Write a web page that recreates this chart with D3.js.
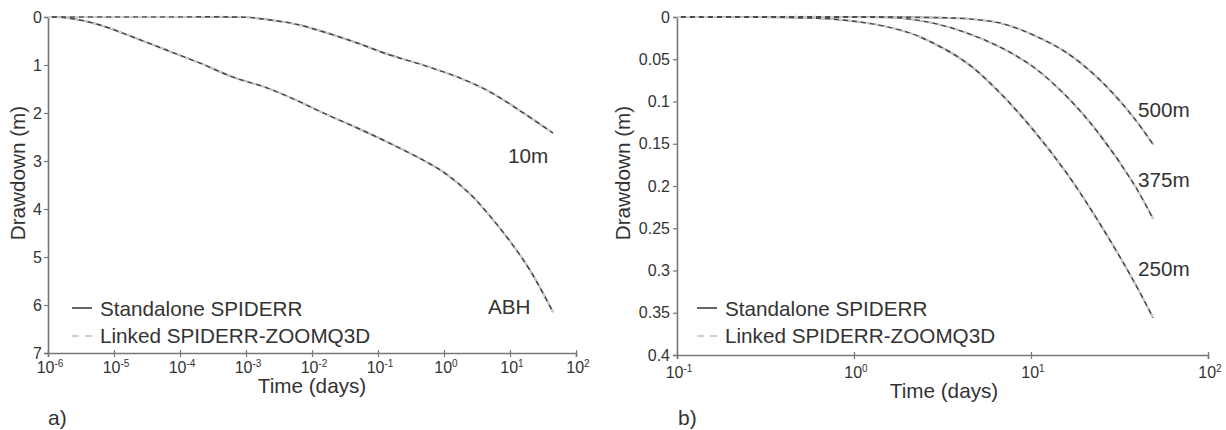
<!DOCTYPE html>
<html><head><meta charset="utf-8">
<script src="https://cdn.jsdelivr.net/npm/d3@7"></script>
<style>
body{margin:0;background:#fff}
svg{display:block}
text{font-family:"Liberation Sans",Arial,Helvetica,sans-serif;fill:#333}
</style>
</head><body>
<svg id="chart" width="1226" height="430"></svg>
<script>
// ---------- Data: panel a) ----------
const timeA_10m = [1e-6, 1e-5, 1e-4, 1e-3, 0.002, 0.0047, 0.0066, 0.015, 0.048, 0.15, 0.48, 1.6, 5, 16, 45];
const drawA_10m = [0, 0, 0, 0.005, 0.05, 0.125, 0.17, 0.31, 0.54, 0.79, 1.0, 1.25, 1.56, 2.0, 2.42];
const timeA_ABH = [1e-6, 1.95e-6, 6.2e-6, 1.95e-5, 6.3e-5, 2e-4, 6.3e-4, 2.1e-3, 6.6e-3, 0.0148, 0.048, 0.151, 0.48, 1.03, 2.5, 5, 10, 20, 45];
const drawA_ABH = [0, 0.02, 0.17, 0.42, 0.69, 0.96, 1.25, 1.48, 1.77, 2.0, 2.31, 2.63, 2.98, 3.25, 3.69, 4.15, 4.67, 5.27, 6.15];
const xExpA = [-6, -5, -4, -3, -2, -1, 0, 1, 2];
const yTicksA = [0, 1, 2, 3, 4, 5, 6, 7];

// ---------- Data: panel b) ----------
const timeB_250 = [0.1, 0.3, 0.5, 0.76, 1.18, 1.82, 2.36, 4.35, 6.68, 10.3, 16, 24.5, 37.7, 49];
const drawB_250 = [0, 0.0003, 0.001, 0.0025, 0.0071, 0.0154, 0.0235, 0.0544, 0.0898, 0.1336, 0.1856, 0.2447, 0.311, 0.356];
const timeB_375 = [0.1, 1.0, 1.82, 2.79, 4.35, 6.68, 10.3, 16, 24.5, 37.7, 49];
const drawB_375 = [0, 0.0002, 0.0012, 0.0071, 0.0189, 0.0355, 0.059, 0.0946, 0.1395, 0.196, 0.239];
const timeB_500 = [0.1, 2.0, 4.35, 6.68, 10.3, 16, 24.5, 37.7, 49];
const drawB_500 = [0, 0.0002, 0.002, 0.0071, 0.0213, 0.0426, 0.0745, 0.118, 0.151];
const xExpB = [-1, 0, 1, 2];
const yTicksB = [0, 0.05, 0.1, 0.15, 0.2, 0.25, 0.3, 0.35, 0.4];
const yTickLabelsB = ["0", "0.05", "0.1", "0.15", "0.2", "0.25", "0.3", "0.35", "0.4"];

// ---------- Text ----------
const legendNames = ["Standalone SPIDERR", "Linked SPIDERR-ZOOMQ3D"];
const yTitle = "Drawdown (m)";
const xTitle = "Time (days)";

const svg = d3.select("#chart");
const axisColor = "#777";
const solidColor = "#4a4a4a";
const dashColor = "#cfcfcf";
const FS = 20.7;

function zip(t, s) { return t.map((v, i) => [v, s[i]]); }

function drawPanel(cfg) {
  const x = d3.scaleLog().domain(cfg.xDomain).range(cfg.xRange);
  const y = d3.scaleLinear().domain(cfg.yDomain).range(cfg.yRange);
  const g = svg.append("g");

  // y axis
  const ya = g.append("g").attr("transform", `translate(${cfg.xRange[0]},0)`)
    .call(d3.axisLeft(y).tickValues(cfg.yTicks).tickSizeOuter(0).tickSize(4)
      .tickPadding(cfg.yPad).tickFormat((d, i) => cfg.yLabels[i]));
  ya.select(".domain").attr("stroke", axisColor).attr("stroke-width", 1.6);
  ya.selectAll(".tick line").attr("stroke", axisColor).attr("stroke-width", 1.2);
  ya.selectAll(".tick text").attr("font-size", 16).attr("fill", "#3a3a3a")
    .attr("font-family", "Liberation Sans, Arial, sans-serif");

  // x axis
  const tickVals = cfg.xExp.map(e => Math.pow(10, e));
  const xa = g.append("g").attr("transform", `translate(0,${cfg.yRange[1]})`)
    .call(d3.axisBottom(x).tickValues(tickVals).tickFormat("").tickSizeOuter(0).tickSize(4));
  xa.select(".domain").attr("stroke", axisColor).attr("stroke-width", 1.6);
  xa.selectAll(".tick line").attr("stroke", axisColor).attr("stroke-width", 1.2).attr("y1", -3);

  cfg.xExp.forEach(e => {
    const t = g.append("text")
      .attr("x", x(Math.pow(10, e)) + 2)
      .attr("y", cfg.yRange[1] + cfg.xLabOff)
      .attr("text-anchor", "middle")
      .attr("font-size", 16).attr("fill", "#3a3a3a");
    t.append("tspan").text("10");
    t.append("tspan").attr("font-size", 10).attr("dy", -6).text(String(e));
  });

  // titles
  g.append("text").attr("transform", `translate(${cfg.yTitleX},173) rotate(-90)`)
    .attr("text-anchor", "middle").attr("font-size", FS).text(yTitle);
  g.append("text").attr("x", cfg.xTitleX).attr("y", cfg.xTitleY)
    .attr("text-anchor", "middle").attr("font-size", FS).text(xTitle);
  g.append("text").attr("x", cfg.panelX).attr("y", 425)
    .attr("font-size", 21).text(cfg.panelLabel);

  // curves
  const line = d3.line().x(d => x(d[0])).y(d => y(d[1])).curve(d3.curveCatmullRom.alpha(0.5));
  cfg.series.forEach(s => {
    const pts = zip(s.t, s.s);
    g.append("path").datum(pts).attr("d", line).attr("fill", "none")
      .attr("stroke", solidColor).attr("stroke-width", 1.7);
    g.append("path").datum(pts).attr("d", line).attr("fill", "none")
      .attr("stroke", dashColor).attr("stroke-width", 1.9).attr("stroke-dasharray", "4,5");
    g.append("text").attr("x", s.lx).attr("y", s.ly).attr("font-size", FS).text(s.name);
  });

  // legend
  const lg = g.append("g");
  lg.append("line").attr("x1", cfg.legX).attr("x2", cfg.legX + 20)
    .attr("y1", 308).attr("y2", 308).attr("stroke", solidColor).attr("stroke-width", 1.7);
  lg.append("text").attr("x", cfg.legX + 28).attr("y", 316).attr("font-size", FS).text(legendNames[0]);
  lg.append("line").attr("x1", cfg.legX).attr("x2", cfg.legX + 20)
    .attr("y1", 336).attr("y2", 336).attr("stroke", dashColor).attr("stroke-width", 1.9)
    .attr("stroke-dasharray", "7,6");
  lg.append("text").attr("x", cfg.legX + 28).attr("y", 343).attr("font-size", FS).text(legendNames[1]);
}

drawPanel({
  xDomain: [1e-6, 1e2], xRange: [48, 576],
  yDomain: [0, 7], yRange: [17, 353],
  yTicks: yTicksA, yLabels: yTicksA.map(String), yPad: 2,
  xExp: xExpA, xLabOff: 20,
  yTitleX: 25, xTitleX: 312, xTitleY: 393,
  panelX: 48, panelLabel: "a)", legX: 72,
  series: [
    {t: timeA_10m, s: drawA_10m, name: "10m", lx: 508, ly: 163},
    {t: timeA_ABH, s: drawA_ABH, name: "ABH", lx: 488, ly: 314}
  ]
});

drawPanel({
  xDomain: [0.1, 100], xRange: [677, 1208],
  yDomain: [0, 0.4], yRange: [17, 355],
  yTicks: yTicksB, yLabels: yTickLabelsB, yPad: 3,
  xExp: xExpB, xLabOff: 23,
  yTitleX: 630, xTitleX: 944, xTitleY: 398,
  panelX: 678, panelLabel: "b)", legX: 697,
  series: [
    {t: timeB_500, s: drawB_500, name: "500m", lx: 1138, ly: 117},
    {t: timeB_375, s: drawB_375, name: "375m", lx: 1138, ly: 187},
    {t: timeB_250, s: drawB_250, name: "250m", lx: 1138, ly: 276}
  ]
});
</script>
</body></html>
